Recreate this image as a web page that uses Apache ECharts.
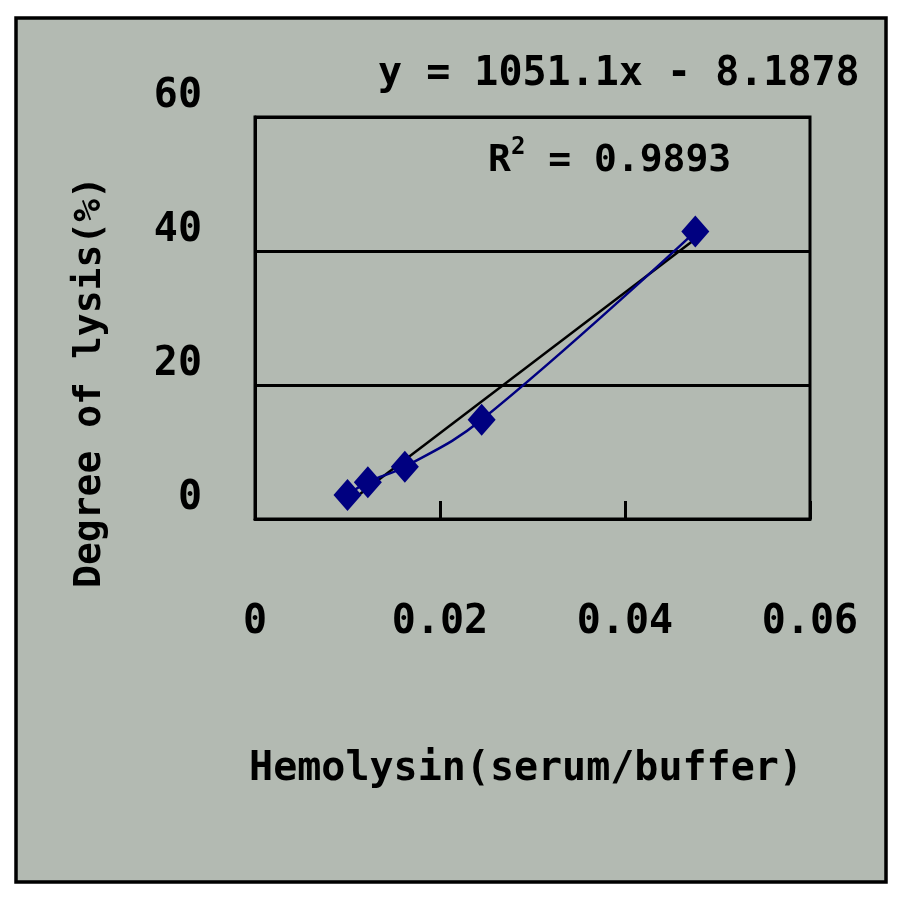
<!DOCTYPE html>
<html>
<head>
<meta charset="utf-8">
<script src="https://cdn.jsdelivr.net/npm/echarts@6/dist/echarts.min.js"></script>
<style>
html,body{margin:0;padding:0;background:#fff;}
#chart{width:903px;height:903px;}
</style>
</head>
<body>
<div id="chart"></div>
<script>
// Data
const hemolysin = [0.0100, 0.0122, 0.0162, 0.0245, 0.0476];
const lysis = [3.6, 5.5, 7.8, 14.8, 42.9];
const trendX = [0.0100, 0.0476];
const trendY = [2.3, 41.8];
const xTicks = [0, 0.02, 0.04, 0.06];
const yTicks = [0, 20, 40, 60];
const equationText = 'y = 1051.1x - 8.1878';
const r2Value = '0.9893';
const xTitle = 'Hemolysin(serum/buffer)';
const yTitle = 'Degree of lysis(%)';

const FONT = 'DejaVu Sans Mono';
const BG = '#b3bab2';

const chart = echarts.init(document.getElementById('chart'), null, {renderer: 'canvas'});
const option = {
  backgroundColor: '#ffffff',
  animation: false,
  graphic: [
    {type: 'rect', z: -10, shape: {x: 16, y: 18, width: 870, height: 864},
     style: {fill: BG, stroke: '#000', lineWidth: 3.5}},
    {type: 'text', left: 378, top: 55, z: 10,
     style: {text: equationText, font: 'bold 40px "' + FONT + '"', fill: '#000'}},
    {type: 'text', left: 488, top: 136, z: 10,
     style: {text: '{b|R}{s|2}{b| = ' + r2Value + '}',
       rich: {
         b: {fontFamily: FONT, fontWeight: 'bold', fontSize: 38, lineHeight: 44, fill: '#000', color: '#000', verticalAlign: 'bottom'},
         s: {fontFamily: FONT, fontWeight: 'bold', fontSize: 24, lineHeight: 44, fill: '#000', color: '#000', verticalAlign: 'top'}
       }}},
    {type: 'text', x: 526, y: 770, z: 10,
     style: {text: xTitle, font: 'bold 40px "' + FONT + '"', fill: '#000', align: 'center', verticalAlign: 'middle'}},
    {type: 'text', x: 90, y: 382, rotation: Math.PI / 2, z: 10,
     style: {text: yTitle, font: 'bold 38px "' + FONT + '"', fill: '#000', align: 'center', verticalAlign: 'middle'}}
  ],
  grid: {left: 255, top: 117, width: 555, height: 402, show: true,
    backgroundColor: 'transparent', borderColor: '#000', borderWidth: 3},
  xAxis: {
    type: 'value', min: xTicks[0], max: xTicks[xTicks.length - 1], interval: xTicks[1] - xTicks[0],
    axisLine: {show: true, onZero: false, lineStyle: {color: '#000', width: 3}},
    axisTick: {show: true, inside: true, length: 18, lineStyle: {color: '#000', width: 3}},
    splitLine: {show: false},
    axisLabel: {margin: 84, color: '#000', fontFamily: FONT, fontWeight: 'bold', fontSize: 40,
      formatter: v => String(v)}
  },
  yAxis: {
    type: 'value', min: yTicks[0], max: yTicks[yTicks.length - 1], interval: yTicks[1] - yTicks[0],
    axisLine: {show: true, lineStyle: {color: '#000', width: 3}},
    axisTick: {show: false},
    splitLine: {show: true, lineStyle: {color: '#000', width: 3}},
    axisLabel: {margin: 53, color: '#000', fontFamily: FONT, fontWeight: 'bold', fontSize: 40,
      verticalAlign: 'bottom', lineHeight: 40}
  },
  series: [
    {type: 'line', name: 'trend', data: trendX.map((x, i) => [x, trendY[i]]),
     symbol: 'none', lineStyle: {color: '#000', width: 2.5}, z: 3},
    {type: 'line', name: 'lysis', data: hemolysin.map((x, i) => [x, lysis[i]]),
     smooth: 0.4, symbol: 'diamond', symbolSize: [28, 32],
     itemStyle: {color: '#000080'}, lineStyle: {color: '#000080', width: 2.5}, z: 4}
  ]
};
chart.setOption(option);
</script>
</body>
</html>
